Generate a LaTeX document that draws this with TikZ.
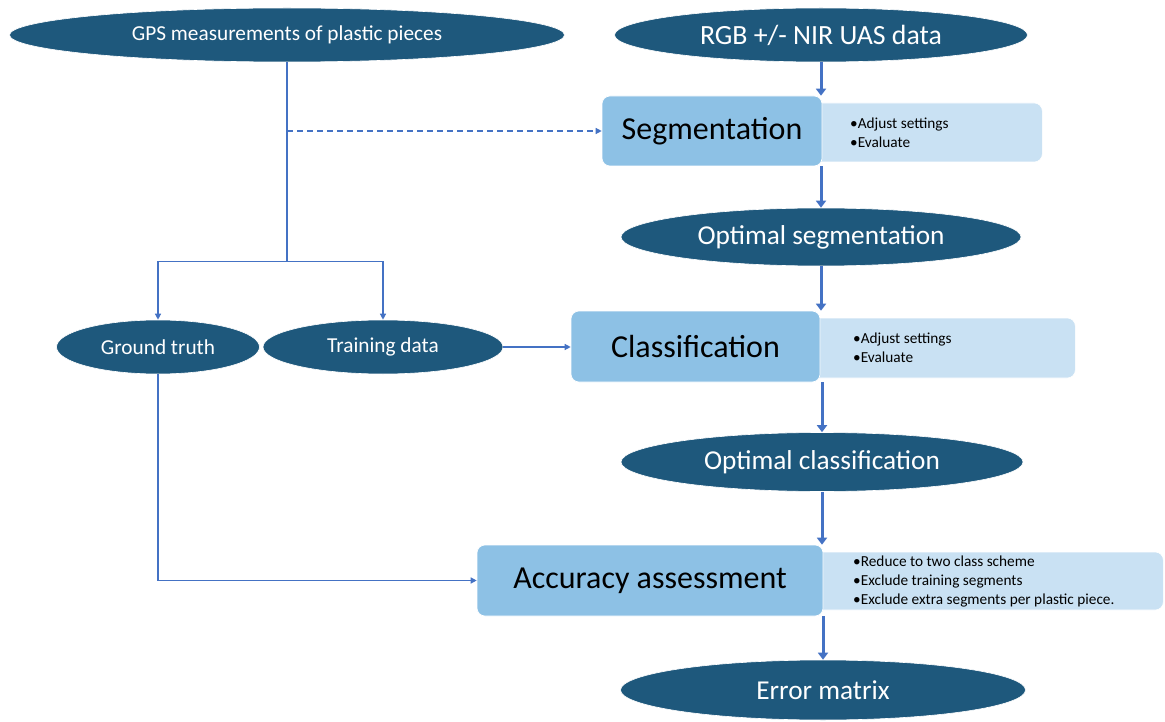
\documentclass[tikz,border=0pt]{standalone}
\usepackage{fontspec}
\setmainfont{Carlito}
\usetikzlibrary{shapes.geometric,arrows.meta}
\definecolor{ellfill}{HTML}{1E587C}
\definecolor{boxfill}{HTML}{8DC1E5}
\definecolor{sidefill}{HTML}{C9E1F3}
\definecolor{linec}{HTML}{4472C4}
\begin{document}
\begin{tikzpicture}[x=1pt,y=-1pt,
  ell/.style={ellipse, fill=ellfill, draw=white, line width=0.6pt, inner sep=0pt, text=white},
  mainbox/.style={rectangle, rounded corners=8pt, fill=boxfill, draw=white, line width=0.6pt, inner sep=0pt, font=\fontsize{32}{38}\selectfont},
  sidebox/.style={rectangle, rounded corners=8pt, fill=sidefill, draw=white, line width=0.6pt, inner sep=0pt},
  bullets/.style={align=left, anchor=west, inner sep=0pt, font=\fontsize{15.3}{19}\selectfont},
  bigarrow/.style={draw=linec, line width=3pt, -{Triangle[width=10pt,length=7pt]}},
  thinline/.style={draw=linec, line width=1.3pt},
  thinarrow/.style={thinline, -{Triangle[width=6pt,length=6pt]}}
]
\useasboundingbox (0,0) rectangle (1165,722);

% ellipses
\node[ell, minimum width=555pt, minimum height=54pt, font=\fontsize{21.3}{25}\selectfont] (gps) at (287,35) {GPS measurements of plastic pieces};
\node[ell, minimum width=413pt, minimum height=54pt, font=\fontsize{27.8}{32}\selectfont] (rgb) at (821,35) {RGB +/- NIR UAS data};
\node[ell, minimum width=400pt, minimum height=58pt, font=\fontsize{27.3}{32}\selectfont] (optseg) at (821,237) {Optimal segmentation};
\node[ell, minimum width=402pt, minimum height=59pt, font=\fontsize{27.3}{32}\selectfont] (optclass) at (822,462) {Optimal classification};
\node[ell, minimum width=405pt, minimum height=60pt, font=\fontsize{27.3}{32}\selectfont] (err) at (823,690) {Error matrix};
\node[ell, minimum width=203pt, minimum height=54pt, font=\fontsize{21.3}{25}\selectfont] (gt) at (158,347) {Ground truth};
\node[ell, minimum width=240pt, minimum height=54pt, font=\fontsize{21.3}{25}\selectfont] (td) at (383,347) {Training data};

% segmentation
\node[sidebox, minimum width=230pt, minimum height=59pt, anchor=west] (segside) at (812,132.5) {};
\node[mainbox, minimum width=220pt, minimum height=70pt] (seg) at (712,131) {Segmentation};
\node[bullets] (segtxt) at (850,132.5) {•Adjust settings\\•Evaluate};

% classification
\node[sidebox, minimum width=265pt, minimum height=60pt, anchor=west] (classside) at (810,348) {};
\node[mainbox, minimum width=249pt, minimum height=71pt] (class) at (695.5,346.5) {Classification};
\node[bullets] (classtxt) at (853,348) {•Adjust settings\\•Evaluate};

% accuracy
\node[sidebox, minimum width=350pt, minimum height=58pt, anchor=west] (accside) at (813,581) {};
\node[mainbox, minimum width=346pt, minimum height=71pt] (acc) at (650,580.5) {Accuracy assessment};
\node[bullets] (acctxt) at (853,581) {•Reduce to two class scheme\\•Exclude training segments\\•Exclude extra segments per plastic piece.};

% thin connectors
\path (gps.south) ++(0,199) coordinate (split);
\draw[thinline] (gps.south) -- (split);
\draw[thinarrow] (split) -| (gt.north);
\draw[thinarrow] (split) -| (td.north);
\draw[thinarrow, dash pattern=on 6pt off 4pt] (gps.south |- seg.west) -- (seg.west);
\draw[thinarrow] (td.east) -- (td.east -| class.west);
\draw[thinarrow] (gt.south) |- (acc.west);

% main flow
\draw[bigarrow] (rgb.south) -- (rgb.south |- seg.north);
\draw[bigarrow] (optseg.north |- seg.south) -- (optseg.north);
\draw[bigarrow] (optseg.south) -- (optseg.south |- class.north);
\draw[bigarrow] (optclass.north |- class.south) -- (optclass.north);
\draw[bigarrow] (optclass.south) -- (optclass.south |- acc.north);
\draw[bigarrow] (err.north |- acc.south) -- (err.north);
\end{tikzpicture}
\end{document}
